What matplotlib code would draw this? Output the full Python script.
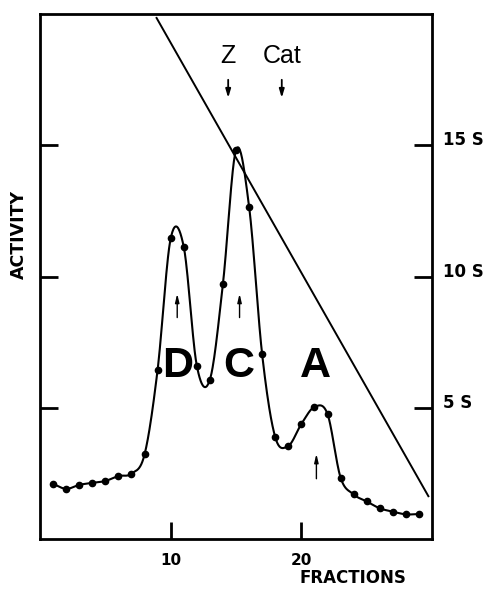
import numpy as np
import matplotlib
matplotlib.use("Agg")
import matplotlib.pyplot as plt
from matplotlib.transforms import ScaledTranslation

plt.rcParams['font.family'] = ['Liberation Sans', 'DejaVu Sans']

# elution profile (fraction number, activity on the S scale)
fractions = np.arange(1, 30)
activity = [2.1, 1.91, 2.06, 2.14, 2.21, 2.40, 2.49, 3.22, 6.45, 11.45,
            11.13, 6.6, 6.07, 9.73, 14.82, 12.66, 7.03, 3.88, 3.55, 4.38,
            5.03, 4.76, 2.34, 1.70, 1.43, 1.17, 1.04, 0.94, 0.95]

# sedimentation calibration line (two end points)
calib_x = [8.92, 29.72]
calib_s = [19.85, 1.63]

s_ticks = [5, 10, 15]
s_labels = ["5 S", "10 S", "15 S"]
x_ticks = [10, 20]

# markers: Z and Cat above (down arrows), peaks below (up arrows)
marker_names = ["Z", "Cat"]
marker_x = [14.4, 18.5]
peak_names = ["D", "C", "A"]
peak_x = [10.55, 15.2, 21.1]
peak_arrow_x = [10.5, 15.27, 21.15]
peak_arrow_y = [(8.33, 9.45), (8.33, 9.45), (2.19, 3.35)]


def smooth(x, y, n=25):
    # catmull-rom curve through the measured points (drawing only)
    x = np.asarray(x, float)
    y = np.asarray(y, float)
    m = np.zeros_like(y)
    m[1:-1] = (y[2:] - y[:-2]) / 2
    m[0] = y[1] - y[0]
    m[-1] = y[-1] - y[-2]
    xs, ys = [], []
    t = np.linspace(0, 1, n)
    h00 = 2 * t**3 - 3 * t**2 + 1
    h10 = t**3 - 2 * t**2 + t
    h01 = -2 * t**3 + 3 * t**2
    h11 = t**3 - t**2
    for i in range(len(x) - 1):
        xs.append(x[i] + t * (x[i + 1] - x[i]))
        ys.append(h00 * y[i] + h10 * m[i] + h01 * y[i + 1] + h11 * m[i + 1])
    return np.concatenate(xs), np.concatenate(ys)


fig = plt.figure(figsize=(4.86, 5.94), dpi=100)
ax = fig.add_axes([0.0823, 0.0926, 0.889 - 0.0823, 0.9764 - 0.0926])

sx, sy = smooth(fractions, activity)
ax.plot(sx, sy, color='k', lw=1.5)
ax.plot(fractions, activity, 'o', color='k', ms=4.5)
ax.plot(calib_x, calib_s, color='k', lw=1.4)

ax.set_xlim(0, 30)
ax.set_ylim(0, 20)
ax.set_xticks(x_ticks)
ax.set_xticklabels([str(v) for v in x_ticks], fontsize=11, fontweight='bold',
                   family='DejaVu Sans')
ax.set_yticks(s_ticks)
ax.set_yticklabels(s_labels, fontsize=12, fontweight='bold',
                   family='DejaVu Sans')
ax.tick_params(axis='y', left=True, right=True, labelleft=False,
               labelright=True, direction='in', length=13, width=2, pad=8)
ax.tick_params(axis='x', direction='in', length=12, width=2, pad=10)
# the S labels sit a little above their ticks
shift = ScaledTranslation(0, 0.07, fig.dpi_scale_trans)
for lab in ax.get_yticklabels(which='both'):
    lab.set_transform(lab.get_transform() + shift)
for sp in ax.spines.values():
    sp.set_linewidth(2)

for name, xv in zip(marker_names, marker_x):
    ax.text(xv, 18.4, name, ha='center', va='center', fontsize=18)
    ax.annotate('', xy=(xv, 16.7), xytext=(xv, 17.6),
                arrowprops=dict(arrowstyle='-|>,head_length=0.5,head_width=0.15',
                                color='k', lw=1.3))

for name, xv in zip(peak_names, peak_x):
    ax.text(xv, 6.6, name, ha='center', va='center', fontsize=31,
            fontweight='bold')
for xv, (y0, y1) in zip(peak_arrow_x, peak_arrow_y):
    ax.annotate('', xy=(xv, y1), xytext=(xv, y0),
                arrowprops=dict(arrowstyle='-|>,head_length=0.5,head_width=0.12',
                                color='k', lw=1.0))

fig.text(0.039, 0.606, "ACTIVITY", rotation=90, ha='center', va='center',
         fontsize=12.5, fontweight='bold', family='DejaVu Sans')
fig.text(0.727, 0.027, "FRACTIONS", ha='center', va='center',
         fontsize=12, fontweight='bold', family='DejaVu Sans')

fig.savefig("out.png", dpi=100)
